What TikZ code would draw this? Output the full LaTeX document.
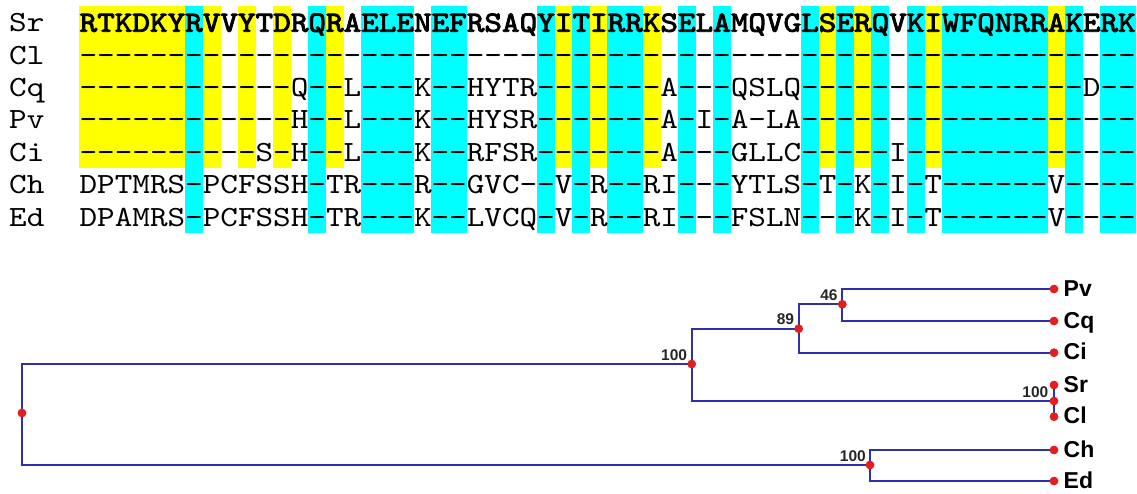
\documentclass[tikz,border=0pt]{standalone}
\usepackage{fontspec}
\setmainfont{Liberation Sans}
\newfontfamily\seqfont{lmmono10-regular.otf}[FakeStretch=1.143]
\newfontfamily\seqboldfont{lmmono10-regular.otf}[FakeStretch=1.143, FakeBold=3]
\ExplSyntaxOn
\cs_new:Npn \hyrun #1 { \prg_replicate:nn {#1} { -{} } }
\ExplSyntaxOff
\definecolor{hlyellow}{RGB}{255,255,0}
\definecolor{hlcyan}{RGB}{0,255,255}
\definecolor{treeblue}{RGB}{48,48,168}
\definecolor{dotred}{RGB}{228,30,30}
\begin{document}
\begin{tikzpicture}[x=1pt,y=-1pt,
  seq/.style={font={\fontsize{29.33}{30}\selectfont\seqfont}, inner sep=0pt, anchor=base west},
  seqb/.style={seq, font={\fontsize{29.33}{30}\selectfont\seqboldfont}},
  branch/.style={draw=treeblue, line width=1.9pt, line cap=rect},
  dot/.style={circle, fill=dotred, inner sep=0pt, minimum size=8.5pt},
  leaf/.style={font={\fontsize{23}{24}\selectfont\bfseries}, inner sep=0pt, anchor=base west},
  boot/.style={font={\fontsize{15.5}{16}\selectfont\bfseries}, text=black!85, inner sep=0pt, anchor=base east}]
\useasboundingbox (0,0) rectangle (1137,494);
% column highlights
\foreach \c in {0,1,2,3,4,5,7,9,11,14,27,29,32,42,44,48,55}
  \fill[hlyellow] ({79.4+17.6*\c},6) rectangle ({79.4+17.6*(\c+1)+0.4},168.5);
\foreach \c in {6,13,16,17,18,20,21,26,28,30,31,34,36,41,43,45,47,49,50,51,52,53,54,56,58,59}
  \fill[hlcyan] ({79.4+17.6*\c},6) rectangle ({79.4+17.6*(\c+1)+0.4},232.7);
% row labels
\node[seq] (lSr) at (9,31.7) {Sr};
\node[seq] (lCl) at (9,64.1) {Cl};
\node[seq] (lCq) at (9,96.5) {Cq};
\node[seq] (lPv) at (9,128.9) {Pv};
\node[seq] (lCi) at (9,161.3) {Ci};
\node[seq] (lCh) at (9,193.7) {Ch};
\node[seq] (lEd) at (9,226.1) {Ed};
% sequences
\node[seqb] (sSr) at (79.4,31.7) {RTKDKYRVVYTDRQRAELENEFRSAQYITIRRKSELAMQVGLSERQVKIWFQNRRAKERK};
\node[seq] (sCl) at (79.4,64.1) {\hyrun{60}};
\node[seq] (sCq) at (79.4,96.5) {\hyrun{12}Q\hyrun{2}L\hyrun{3}K\hyrun{2}HYTR\hyrun{7}A\hyrun{3}QSLQ\hyrun{16}D\hyrun{2}};
\node[seq] (sPv) at (79.4,128.9) {\hyrun{12}H\hyrun{2}L\hyrun{3}K\hyrun{2}HYSR\hyrun{7}A\hyrun{1}I\hyrun{1}A\hyrun{1}LA\hyrun{19}};
\node[seq] (sCi) at (79.4,161.3) {\hyrun{10}S\hyrun{1}H\hyrun{2}L\hyrun{3}K\hyrun{2}RFSR\hyrun{7}A\hyrun{3}GLLC\hyrun{5}I\hyrun{13}};
\node[seq] (sCh) at (79.4,193.7) {DPTMRS\hyrun{1}PCFSSH\hyrun{1}TR\hyrun{3}R\hyrun{2}GVC\hyrun{2}V\hyrun{1}R\hyrun{2}RI\hyrun{3}YTLS\hyrun{1}T\hyrun{1}K\hyrun{1}I\hyrun{1}T\hyrun{6}V\hyrun{4}};
\node[seq] (sEd) at (79.4,226.1) {DPAMRS\hyrun{1}PCFSSH\hyrun{1}TR\hyrun{3}K\hyrun{2}LVCQ\hyrun{1}V\hyrun{1}R\hyrun{2}RI\hyrun{3}FSLN\hyrun{3}K\hyrun{1}I\hyrun{1}T\hyrun{6}V\hyrun{4}};
% tree nodes
\node[dot] (root) at (22,413) {};
\node[dot] (A) at (691.7,364) {};
\node[dot] (B) at (798.7,328.7) {};
\node[dot] (C) at (842.3,304.3) {};
\node[dot] (D) at (870,465) {};
\node[dot] (E) at (1054,401) {};
\node[dot] (tPv) at (1054,289) {};
\node[dot] (tCq) at (1054,321) {};
\node[dot] (tCi) at (1054,352.7) {};
\node[dot] (tSr) at (1054,385) {};
\node[dot] (tCl) at (1054,416.7) {};
\node[dot] (tCh) at (1054,450) {};
\node[dot] (tEd) at (1054,481) {};
% branches
\draw[branch] (root.center) |- (A.center);
\draw[branch] (root.center) |- (D.center);
\draw[branch] (A.center) |- (B.center);
\draw[branch] (A.center) |- (E.center);
\draw[branch] (B.center) |- (C.center);
\draw[branch] (B.center) |- (tCi.center);
\draw[branch] (C.center) |- (tPv.center);
\draw[branch] (C.center) |- (tCq.center);
\draw[branch] (D.center) |- (tCh.center);
\draw[branch] (D.center) |- (tEd.center);
\draw[branch] (E.center) -- (tSr.center);
\draw[branch] (E.center) -- (tCl.center);
% redraw dots on top
\foreach \n in {root,A,B,C,D,E,tPv,tCq,tCi,tSr,tCl,tCh,tEd}
  \fill[dotred] (\n.center) circle (4.25pt);
% bootstrap labels
\node[boot] (bA) at ([xshift=-4.5pt,yshift=4pt]A.center) {100};
\node[boot] (bB) at ([xshift=-4.5pt,yshift=4pt]B.center) {89};
\node[boot] (bC) at ([xshift=-4.5pt,yshift=4pt]C.center) {46};
\node[boot] (bD) at ([xshift=-4pt,yshift=4pt]D.center) {100};
\node[boot] (bE) at ([xshift=-5.5pt,yshift=4pt]E.center) {100};
% leaf labels
\node[leaf] (nPv) at (1063.5,296) {Pv};
\node[leaf] (nCq) at (1063.5,328) {Cq};
\node[leaf] (nCi) at (1063.5,359.7) {Ci};
\node[leaf] (nSr) at (1063.5,392) {Sr};
\node[leaf] (nCl) at (1063.5,423.7) {Cl};
\node[leaf] (nCh) at (1063.5,457) {Ch};
\node[leaf] (nEd) at (1063.5,488) {Ed};
\end{tikzpicture}
\end{document}
